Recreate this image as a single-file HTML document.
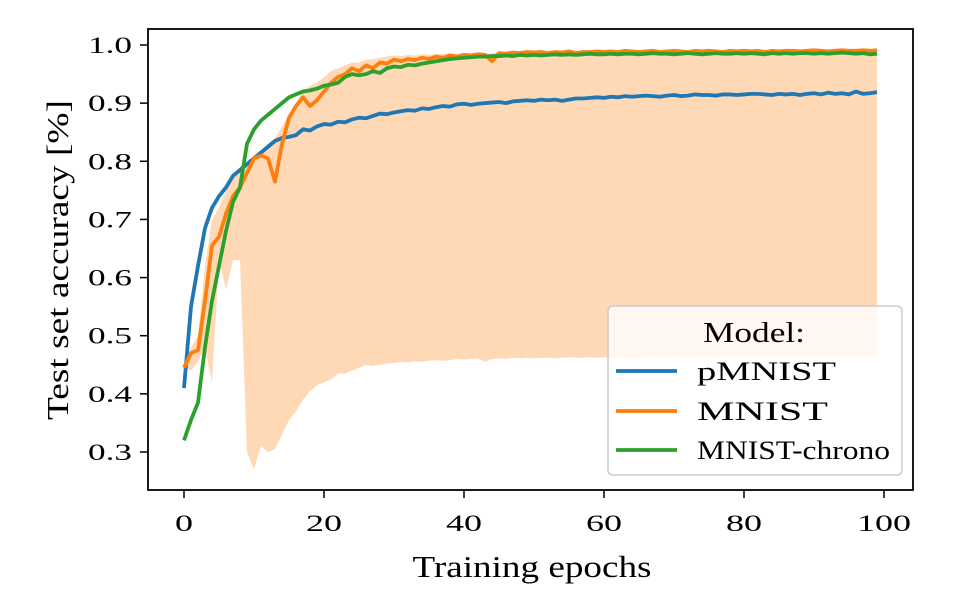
<!DOCTYPE html>
<html><head><meta charset="utf-8"><style>
body{margin:0;background:#fff;}
svg{display:block;font-family:"Liberation Serif",serif;}
</style></head><body>
<svg id="chart" width="963" height="597">
<g id="plot"></g>
</svg>
<script>
const epochs = Array.from({length:100},(_,i)=>i);
const xTicks = [0,20,40,60,80,100];
const yTicks = [0.3,0.4,0.5,0.6,0.7,0.8,0.9,1.0];
const pmnist = [0.41,0.55,0.62,0.685,0.72,0.74,0.755,0.775,0.785,0.795,
0.805,0.815,0.825,0.835,0.84,0.842,0.845,0.855,0.853,0.86,
0.864,0.863,0.868,0.867,0.872,0.875,0.874,0.878,0.882,0.881,
0.884,0.886,0.888,0.887,0.891,0.890,0.893,0.895,0.894,0.898,
0.899,0.897,0.899,0.900,0.901,0.902,0.900,0.903,0.904,0.905,
0.904,0.906,0.905,0.906,0.904,0.906,0.908,0.908,0.909,0.910,
0.909,0.911,0.910,0.912,0.911,0.912,0.913,0.912,0.911,0.913,
0.914,0.912,0.913,0.915,0.914,0.914,0.913,0.915,0.915,0.914,
0.915,0.916,0.916,0.915,0.914,0.916,0.915,0.916,0.914,0.916,
0.917,0.915,0.918,0.916,0.917,0.915,0.920,0.916,0.917,0.919];
const mnist = [0.445,0.47,0.475,0.56,0.655,0.67,0.71,0.74,0.755,0.78,
0.805,0.81,0.805,0.765,0.83,0.875,0.895,0.91,0.895,0.905,
0.92,0.935,0.945,0.95,0.96,0.955,0.965,0.96,0.97,0.968,
0.975,0.972,0.976,0.974,0.978,0.976,0.980,0.978,0.982,0.980,
0.983,0.982,0.984,0.983,0.972,0.986,0.985,0.987,0.986,0.988,
0.987,0.988,0.986,0.988,0.987,0.989,0.986,0.988,0.988,0.989,
0.988,0.989,0.988,0.990,0.989,0.988,0.989,0.990,0.988,0.989,
0.990,0.989,0.988,0.990,0.989,0.990,0.989,0.988,0.990,0.989,
0.990,0.989,0.990,0.988,0.990,0.989,0.990,0.990,0.989,0.990,
0.991,0.990,0.989,0.990,0.991,0.990,0.990,0.991,0.990,0.991];
const chrono = [0.32,0.355,0.385,0.48,0.56,0.62,0.68,0.73,0.755,0.83,
0.855,0.87,0.88,0.89,0.90,0.91,0.915,0.92,0.922,0.925,
0.93,0.932,0.935,0.945,0.950,0.948,0.950,0.955,0.952,0.960,
0.963,0.962,0.966,0.965,0.968,0.970,0.972,0.974,0.976,0.977,
0.978,0.979,0.980,0.980,0.981,0.981,0.982,0.981,0.983,0.982,
0.983,0.982,0.983,0.984,0.983,0.984,0.983,0.984,0.985,0.984,
0.984,0.985,0.984,0.985,0.985,0.984,0.985,0.986,0.985,0.985,
0.984,0.985,0.986,0.985,0.984,0.985,0.986,0.985,0.985,0.986,
0.985,0.986,0.985,0.984,0.986,0.985,0.986,0.985,0.986,0.986,
0.985,0.986,0.985,0.986,0.987,0.986,0.985,0.986,0.984,0.985];
const mnistLow = [0.445,0.44,0.455,0.48,0.42,0.63,0.58,0.63,0.63,0.30,
0.27,0.31,0.30,0.305,0.33,0.355,0.37,0.39,0.405,0.415,
0.42,0.425,0.435,0.435,0.44,0.445,0.45,0.448,0.45,0.452,
0.453,0.455,0.454,0.456,0.455,0.457,0.458,0.457,0.458,0.46,
0.459,0.46,0.461,0.455,0.46,0.461,0.46,0.462,0.461,0.462,
0.461,0.462,0.462,0.461,0.462,0.463,0.462,0.462,0.463,0.462,
0.463,0.462,0.463,0.463,0.462,0.463,0.463,0.464,0.463,0.463,
0.464,0.463,0.464,0.463,0.464,0.464,0.463,0.464,0.464,0.464,
0.464,0.465,0.464,0.464,0.465,0.464,0.465,0.464,0.465,0.465,
0.464,0.465,0.465,0.465,0.464,0.465,0.465,0.465,0.465,0.465];
const mnistHigh = [0.45,0.48,0.50,0.62,0.70,0.72,0.75,0.77,0.79,0.80,
0.81,0.82,0.83,0.84,0.86,0.88,0.90,0.92,0.93,0.935,
0.945,0.955,0.96,0.965,0.97,0.97,0.975,0.975,0.978,0.98,
0.982,0.981,0.983,0.982,0.984,0.983,0.985,0.984,0.986,0.985,
0.986,0.986,0.987,0.986,0.985,0.988,0.987,0.988,0.988,0.989,
0.988,0.989,0.988,0.989,0.989,0.990,0.989,0.989,0.990,0.990,
0.989,0.990,0.990,0.991,0.990,0.990,0.990,0.991,0.990,0.990,
0.991,0.990,0.990,0.991,0.990,0.991,0.991,0.990,0.991,0.991,
0.991,0.991,0.991,0.990,0.991,0.991,0.992,0.991,0.991,0.992,
0.992,0.991,0.991,0.992,0.992,0.991,0.992,0.992,0.991,0.992];

const L=148,R=913,T=29,B=490;
const xs = e => 184 + e*7.0;
const ys = v => 45 + (1.0-v)*(452-45)/0.7;
const NS='http://www.w3.org/2000/svg';
const g=document.getElementById('plot');
function mk(tag,attrs,parent){const el=document.createElementNS(NS,tag);for(const k in attrs)el.setAttribute(k,attrs[k]);(parent||g).appendChild(el);return el;}

let d='M'+epochs.map(i=>xs(i)+','+ys(mnistHigh[i])).join('L');
for(let i=epochs.length-1;i>=0;i--) d+='L'+xs(i)+','+ys(mnistLow[i]);
const band=mk('path',{d:d+'Z',fill:'#ffd8b5',stroke:'none'});



function line(arr,color,name){
  const p=mk('path',{d:'M'+epochs.map(i=>xs(i)+','+ys(arr[i])).join('L'),fill:'none',stroke:color,'stroke-width':3.8,'stroke-linejoin':'round'});
  
  
}
line(pmnist,'#1f77b4','pmnist-line');
line(mnist,'#ff7f0e','mnist-line');
line(chrono,'#2ca02c','mnist-chrono-line');

const fr=mk('rect',{x:L,y:T,width:R-L,height:B-T,fill:'none',stroke:'#000','stroke-width':1.8});



xTicks.forEach(t=>{
  const tk=mk('line',{x1:xs(t),x2:xs(t),y1:B,y2:B+8,stroke:'#000','stroke-width':1.5});
  
  
  const s=String(t);
  const tx=mk('text',{x:xs(t),y:B+41,'text-anchor':'middle','font-size':23,textLength:s.length*18,lengthAdjust:'spacingAndGlyphs'});
  tx.textContent=s;
  
  
});
yTicks.forEach(t=>{
  const tk=mk('line',{x1:L-8,x2:L,y1:ys(t),y2:ys(t),stroke:'#000','stroke-width':1.5});
  
  
  const tx=mk('text',{x:L-16,y:ys(t)+8,'text-anchor':'end','font-size':23,textLength:44,lengthAdjust:'spacingAndGlyphs'});
  tx.textContent=t.toFixed(1);
  
  
});
const xl=mk('text',{x:532,y:577,'text-anchor':'middle','font-size':31,textLength:239,lengthAdjust:'spacingAndGlyphs'});
xl.textContent='Training epochs';


const yl=mk('text',{x:0,y:0,'text-anchor':'middle','font-size':31,textLength:320,lengthAdjust:'spacingAndGlyphs',transform:'translate(68,260) rotate(-90)'});
yl.textContent='Test set accuracy [%]';



const lg=mk('g',{});


mk('rect',{x:608,y:306,width:294,height:169,rx:5,fill:'#fff','fill-opacity':0.8,stroke:'#ccc','stroke-width':1.5},lg);
const lt=mk('text',{x:754,y:342,'text-anchor':'middle','font-size':29,textLength:102,lengthAdjust:'spacingAndGlyphs'},lg);
lt.textContent='Model:';


[['pMNIST','#1f77b4',371,139],['MNIST','#ff7f0e',411,131],['MNIST-chrono','#2ca02c',450,193]].forEach(([n,c,y,w])=>{
  const e=mk('g',{},lg);
  
  
  mk('line',{x1:616,x2:677,y1:y,y2:y,stroke:c,'stroke-width':3.8},e);
  const t=mk('text',{x:697,y:y+9,'font-size':26,textLength:w,lengthAdjust:'spacingAndGlyphs'},e);
  t.textContent=n;
});
</script>
</body></html>
